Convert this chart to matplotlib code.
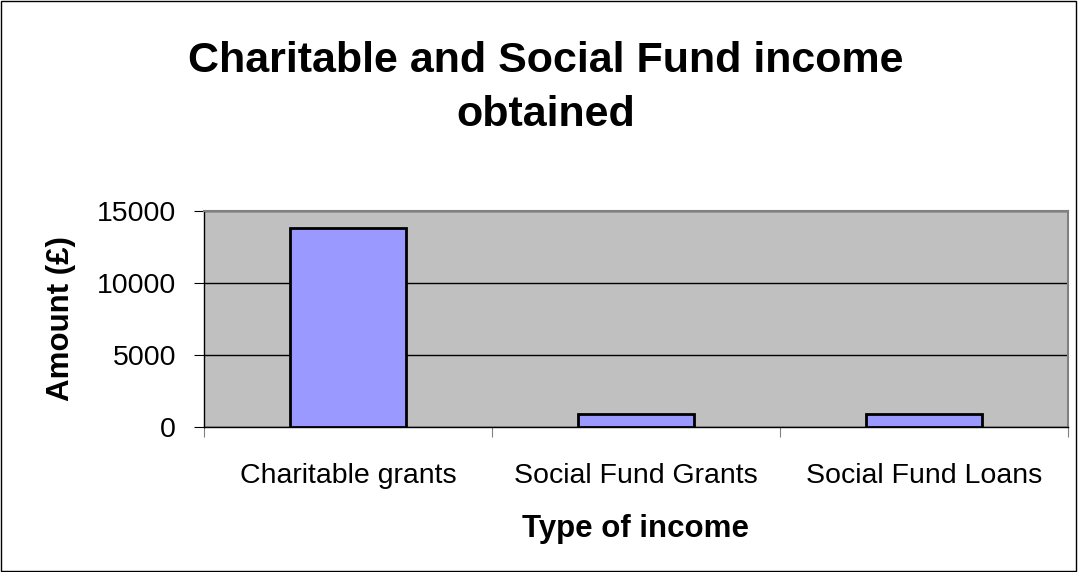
import matplotlib.pyplot as plt
from matplotlib.patches import Rectangle

plt.rcParams['font.family'] = ['Liberation Sans', 'DejaVu Sans']

# income by type, in pounds
categories = ['Charitable grants', 'Social Fund Grants', 'Social Fund Loans']
amounts = [13800, 920, 920]
y_ticks = [0, 5000, 10000, 15000]

fig = plt.figure(figsize=(10.78, 5.72), dpi=100)
ax = fig.add_axes([204 / 1078, 1 - 427 / 572, 864 / 1078, 216 / 572])

ax.set_facecolor('#C0C0C0')
ax.bar(range(len(categories)), amounts, width=0.4, color='#9999FF',
       edgecolor='black', linewidth=2, zorder=3)

ax.set_xlim(-0.5, len(categories) - 0.5)
ax.set_ylim(0, 15000)
ax.set_yticks(y_ticks)
ax.set_xticks([-0.5, 0.5, 1.5, 2.5], minor=False)
ax.set_xticklabels([])
ax.set_xticks(range(len(categories)), minor=True)
ax.set_xticklabels(categories, minor=True)
ax.tick_params(axis='x', which='minor', length=0, pad=26, labelsize=20.5)
ax.tick_params(axis='x', which='major', length=7, direction='out', color='#808080')
ax.tick_params(axis='y', length=7, direction='out', labelsize=20.5, pad=13)
ax.grid(axis='y', color='black', linewidth=1, zorder=1)

for side in ['top', 'right']:
    ax.spines[side].set_color('#808080')
    ax.spines[side].set_linewidth(1.5)
for side in ['left', 'bottom']:
    ax.spines[side].set_color('black')
    ax.spines[side].set_linewidth(1)

ax.set_ylabel('Amount (£)', fontsize=22.5, fontweight='bold', labelpad=15)
ax.set_xlabel('Type of income', fontsize=22.5, fontweight='bold', labelpad=18)

fig.text(546 / 1078, 1 - 41 / 572, 'Charitable and Social Fund income\nobtained',
         ha='center', va='top', fontsize=31, fontweight='bold', linespacing=1.45)

# frame around the whole chart
fig.patches.append(Rectangle((0.0005, 0.001), 0.998, 0.998, transform=fig.transFigure,
                             fill=False, edgecolor='black', linewidth=1))

fig.savefig('out.png', dpi=100)
